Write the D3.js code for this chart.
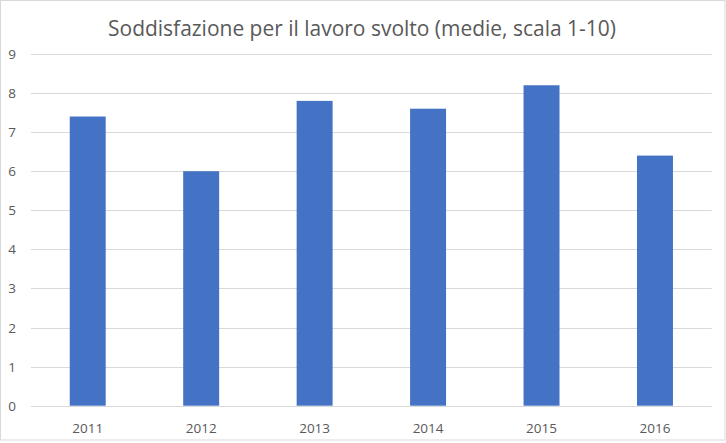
<!DOCTYPE html>
<html><head><meta charset="utf-8">
<script src="https://cdn.jsdelivr.net/npm/d3@7"></script>
<style>body{margin:0;background:#fff}svg{display:block}text{font-family:"Open Sans","Liberation Sans",sans-serif}</style>
</head><body>
<svg id="c" width="726" height="443"></svg>
<script>
const categories = ["2011","2012","2013","2014","2015","2016"];
const values = [7.4, 6.0, 7.8, 7.6, 8.2, 6.4];
const yTicks = [0,1,2,3,4,5,6,7,8,9];
const title = "Soddisfazione per il lavoro svolto (medie, scala 1-10)";

const svg = d3.select("#c");
svg.append("rect").attr("x",0.5).attr("y",0.5).attr("width",724.5).attr("height",439.5)
  .attr("fill","#fff").attr("stroke","#d9d9d9");

const x = d3.scaleBand().domain(categories).range([31, 711.7]).paddingInner(0.683).paddingOuter(0.3415);
const y = d3.scaleLinear().domain([0,9]).range([405.7, 54]);

svg.append("g").selectAll("line").data(yTicks).join("line")
  .attr("x1",31).attr("x2",711.7)
  .attr("y1",d=>Math.round(y(d))+0.5).attr("y2",d=>Math.round(y(d))+0.5)
  .attr("stroke","#d9d9d9").attr("stroke-width",1);

svg.append("g").selectAll("rect").data(values).join("rect")
  .attr("x",(d,i)=>x(categories[i])).attr("width",x.bandwidth())
  .attr("y",d=>y(d)).attr("height",d=>y(0)-y(d)).attr("fill","#4472C4");

svg.append("g").selectAll("text").data(yTicks).join("text")
  .attr("x",16).attr("y",d=>y(d)+5).attr("text-anchor","end")
  .attr("font-size",13.5).attr("fill","#595959").text(d=>d);

svg.append("g").selectAll("text").data(categories).join("text")
  .attr("x",d=>x(d)+x.bandwidth()/2).attr("y",433).attr("text-anchor","middle")
  .attr("font-size",13.5).attr("fill","#595959").text(d=>d);

const t = svg.append("text").attr("x",362).attr("y",36).attr("text-anchor","middle")
  .attr("font-size",20).attr("fill","#595959").text(title);
const w = t.node().getComputedTextLength();
t.attr("font-size", 20*508/w);
</script>
</body></html>
